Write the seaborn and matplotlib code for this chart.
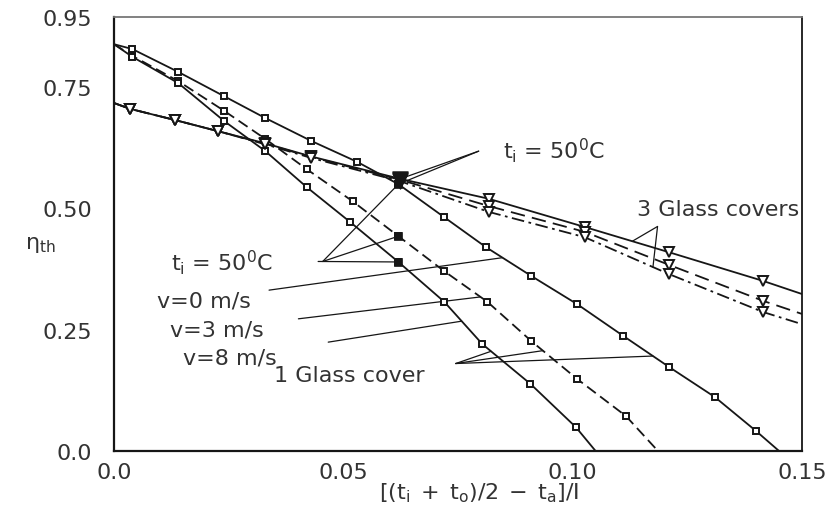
import numpy as np
import matplotlib
matplotlib.use("Agg")
import matplotlib.pyplot as plt
import seaborn as sns

# ---------------- data ----------------
# 1 glass cover, v = 0 m/s (solid)
x_1g_v0 = [0.0, 0.004, 0.014, 0.024, 0.033, 0.043, 0.053, 0.062, 0.072, 0.081,
           0.091, 0.101, 0.111, 0.121, 0.131, 0.140, 0.145]
eta_1g_v0 = [0.837, 0.827, 0.780, 0.730, 0.685, 0.638, 0.595, 0.549, 0.481, 0.420,
             0.360, 0.302, 0.237, 0.173, 0.111, 0.041, 0.0]
# 1 glass cover, v = 3 m/s (dashed)
x_1g_v3 = [0.0, 0.004, 0.014, 0.024, 0.033, 0.042, 0.052, 0.062, 0.072, 0.0814,
           0.091, 0.101, 0.1116, 0.1186]
eta_1g_v3 = [0.837, 0.813, 0.761, 0.700, 0.642, 0.580, 0.514, 0.442, 0.370, 0.307,
             0.226, 0.148, 0.072, 0.0]
# 1 glass cover, v = 8 m/s
x_1g_v8 = [0.0, 0.004, 0.014, 0.024, 0.033, 0.042, 0.0515, 0.062, 0.072, 0.0803,
           0.0908, 0.1007, 0.105]
eta_1g_v8 = [0.837, 0.811, 0.757, 0.679, 0.617, 0.543, 0.471, 0.389, 0.307, 0.220,
             0.138, 0.049, 0.0]
# 3 glass covers
x_3g = [0.0, 0.0035, 0.0133, 0.0227, 0.033, 0.043, 0.0624, 0.0817, 0.1026, 0.121,
        0.1415, 0.150]
eta_3g_v0 = [0.716, 0.704, 0.681, 0.658, 0.633, 0.606, 0.560, 0.519, 0.461, 0.409,
             0.350, 0.323]
eta_3g_v3 = [0.716, 0.704, 0.681, 0.658, 0.632, 0.605, 0.558, 0.504, 0.451, 0.383,
             0.309, 0.282]
eta_3g_v8 = [0.716, 0.704, 0.681, 0.658, 0.631, 0.603, 0.555, 0.492, 0.440, 0.364,
             0.286, 0.261]

idx_ti50_1g = 7   # ti = 50 degC point on the 1-cover curves
idx_ti50_3g = 6   # ti = 50 degC point on the 3-cover curves

xtick_vals = [0.0, 0.05, 0.10, 0.15]
xtick_labels = ["0.0", "0.05", "0.10", "0.15"]
ytick_vals = [0.0, 0.25, 0.50, 0.75, 0.893]
ytick_labels = ["0.0", "0.25", "0.50", "0.75", "0.95"]

# ---------------- style ----------------
sns.set_theme(style="white")
plt.rcParams["font.family"] = ["DejaVu Sans"]
plt.rcParams["mathtext.fontset"] = "dejavusans"

INK = "#161616"
TXT = "#333333"
FS = 16

fig = plt.figure(figsize=(8.33, 5.10), dpi=100)
ax = fig.add_axes([0.1369, 0.1137, 0.8259, 0.851])

def curve(x, y, ls, marker, ms):
    n = len(x)
    sns.lineplot(x=x, y=y, ax=ax, color=INK, linewidth=1.3, linestyle=ls,
                 marker=marker, markersize=ms, markerfacecolor="white",
                 markeredgecolor=INK, markeredgewidth=1.4,
                 markevery=list(range(1, n - 1)), sort=False, legend=False)

curve(x_1g_v0, eta_1g_v0, "-", "s", 5)
curve(x_1g_v3, eta_1g_v3, (0, (6, 3)), "s", 5)
curve(x_1g_v8, eta_1g_v8, "-", "s", 5)
curve(x_3g, eta_3g_v0, "-", "v", 6.5)
curve(x_3g, eta_3g_v3, (0, (8, 4)), "v", 6.5)
curve(x_3g, eta_3g_v8, (0, (7, 2.5, 1.5, 2.5)), "v", 6.5)

# filled ti = 50 degC points
fx = [x_1g_v0[idx_ti50_1g], x_1g_v3[idx_ti50_1g], x_1g_v8[idx_ti50_1g]]
fy = [eta_1g_v0[idx_ti50_1g], eta_1g_v3[idx_ti50_1g], eta_1g_v8[idx_ti50_1g]]
gx = [x_3g[idx_ti50_3g]] * 3
gy = [eta_3g_v0[idx_ti50_3g], eta_3g_v3[idx_ti50_3g], eta_3g_v8[idx_ti50_3g]]
sns.scatterplot(x=gx, y=gy, ax=ax, marker="v", s=120, color=INK, edgecolor=INK,
                legend=False, zorder=6)
sns.scatterplot(x=fx, y=fy, ax=ax, marker="s", s=40, color=INK, edgecolor=INK,
                legend=False, zorder=7)

# ---------------- annotations ----------------
def leader(p0, p1):
    ax.plot([p0[0], p1[0]], [p0[1], p1[1]], color=INK, lw=0.9, zorder=1)

ti_lbl = r"t$_\mathrm{i}$ = 50$^\mathrm{0}$C"
ax.text(0.0959, 0.621, ti_lbl, fontsize=FS, color=TXT, ha="center", va="center")
leader((0.0795, 0.617), (fx[0], fy[0]))
leader((0.0795, 0.617), (gx[0], gy[0]))

ax.text(0.0236, 0.389, ti_lbl, fontsize=FS, color=TXT, ha="center", va="center")
leader((0.0445, 0.390), (fx[2], fy[2]))
leader((0.0455, 0.390), (fx[1], fy[1]))
leader((0.0455, 0.390), (fx[0], fy[0]))

ax.text(0.0197, 0.309, "v=0 m/s", fontsize=FS, color=TXT, ha="center", va="center")
leader((0.0338, 0.331), (0.0847, float(np.interp(0.0847, x_1g_v0, eta_1g_v0))))
ax.text(0.0225, 0.251, "v=3 m/s", fontsize=FS, color=TXT, ha="center", va="center")
leader((0.0402, 0.272), (0.0799, float(np.interp(0.0799, x_1g_v3, eta_1g_v3))))
ax.text(0.0253, 0.193, "v=8 m/s", fontsize=FS, color=TXT, ha="center", va="center")
leader((0.0467, 0.224), (0.0758, float(np.interp(0.0758, x_1g_v8, eta_1g_v8))))

ax.text(0.0513, 0.156, "1 Glass cover", fontsize=FS, color=TXT, ha="center", va="center")
apex1 = (0.0745, 0.18)
leader(apex1, (0.1175, float(np.interp(0.1175, x_1g_v0, eta_1g_v0))))
leader(apex1, (0.0935, float(np.interp(0.0935, x_1g_v3, eta_1g_v3))))
leader(apex1, (0.0822, float(np.interp(0.0822, x_1g_v8, eta_1g_v8))))

ax.text(0.1494, 0.498, "3 Glass covers", fontsize=FS, color=TXT, ha="right", va="center")
apex3 = (0.1185, 0.462)
leader(apex3, (0.113, float(np.interp(0.113, x_3g, eta_3g_v0))))
leader(apex3, (0.1175, float(np.interp(0.1175, x_3g, eta_3g_v8))))

# ---------------- axes ----------------
ax.set_xlim(0, 0.15)
ax.set_ylim(0, 0.893)
ax.set_xticks(xtick_vals, xtick_labels)
ax.set_yticks(ytick_vals, ytick_labels)
ax.tick_params(axis="y", direction="in", length=15, width=1.3, pad=16,
               labelsize=FS, colors=INK, labelcolor=TXT)
ax.tick_params(axis="x", direction="in", length=9, width=1.3, pad=8,
               labelsize=FS, colors=INK, labelcolor=TXT)
ax.set_xlabel(r"$[(\mathrm{t_i}\;+\;\mathrm{t_o})/2\;-\;\mathrm{t_a}]/\mathrm{I}$",
              fontsize=FS, color=TXT, va="top")
ax.xaxis.set_label_coords(0.531, -0.068)
ax.set_ylabel(r"η$_\mathrm{th}$", fontsize=FS, color=TXT, rotation=0,
              ha="center", va="center")
ax.yaxis.set_label_coords(-0.107, 0.477)

for s in ["left", "bottom"]:
    ax.spines[s].set_color(INK)
    ax.spines[s].set_linewidth(1.6)
ax.spines["right"].set_color(INK)
ax.spines["right"].set_linewidth(1.3)
ax.spines["top"].set_color("#777777")
ax.spines["top"].set_linewidth(1.3)

fig.savefig("out.png", dpi=100, facecolor="white")
